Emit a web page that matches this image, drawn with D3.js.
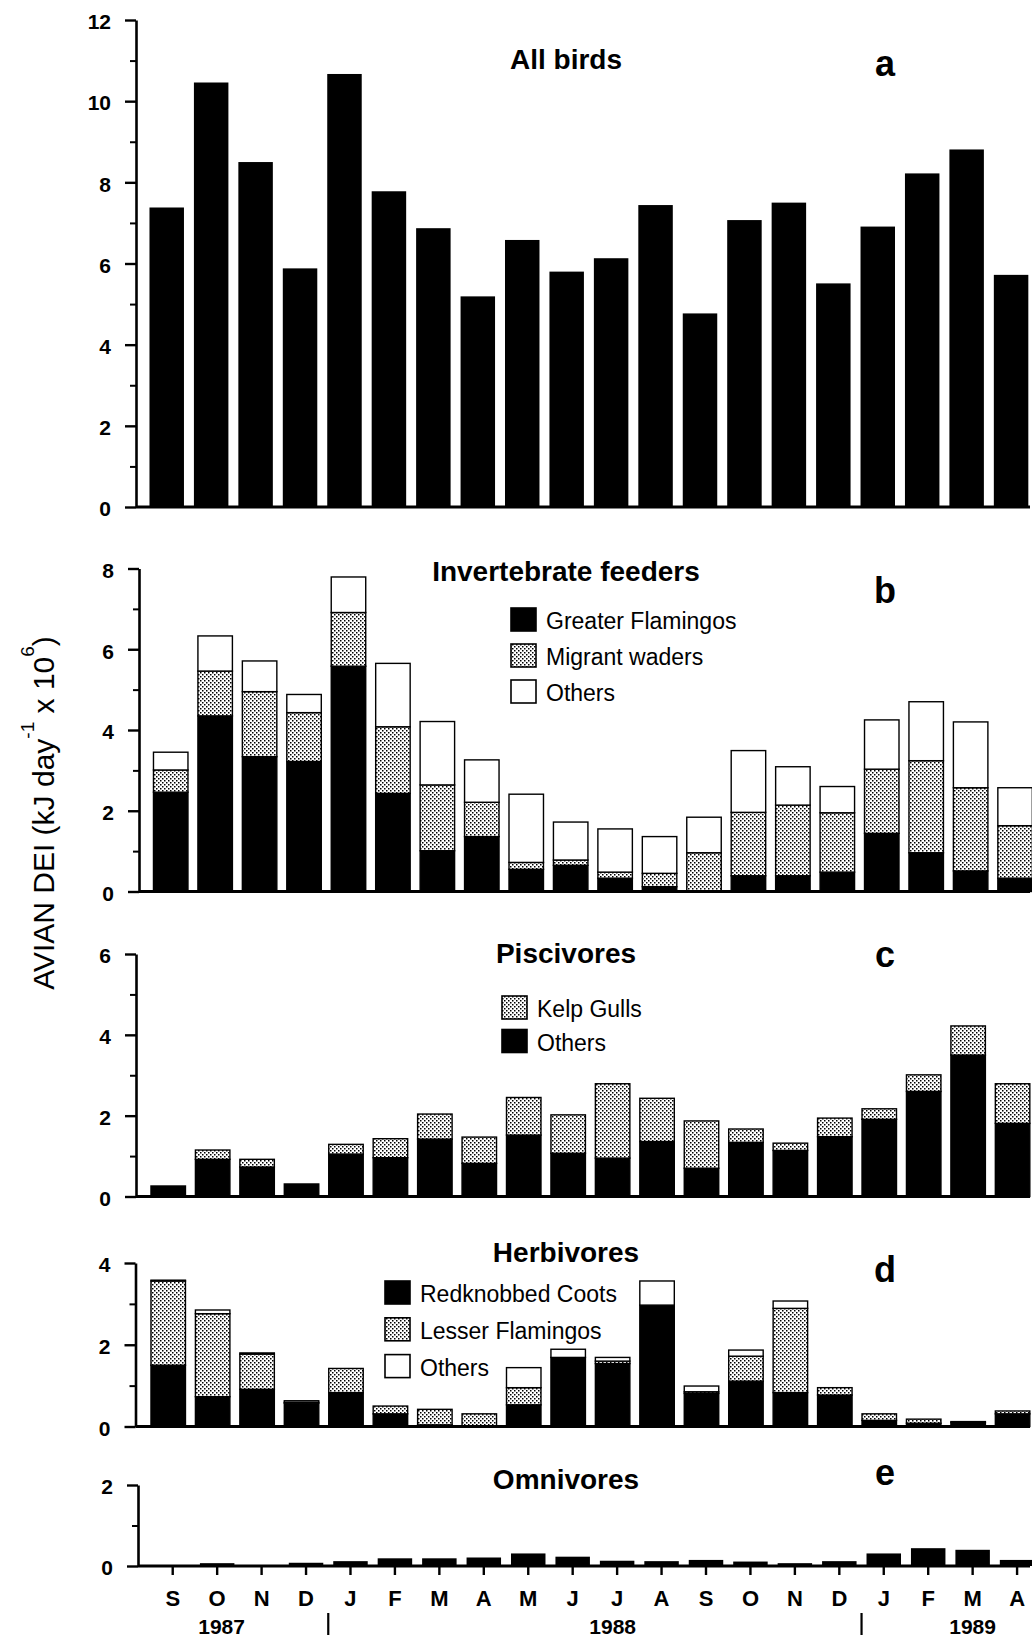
<!DOCTYPE html>
<html><head><meta charset="utf-8">
<script src="https://cdn.jsdelivr.net/npm/d3@7"></script>
<style>
body{margin:0;background:#fff}
svg text{font-family:"Liberation Sans",Arial,Helvetica,sans-serif;fill:#000}
</style>
</head><body>
<svg id="chart" width="1032" height="1640"></svg>
<script>
// ---------- data ----------
const months = ["S","O","N","D","J","F","M","A","M","J","J","A","S","O","N","D","J","F","M","A"];
const years = ["1987","1988","1989"];
const yearAt = [1.1, 9.9, 18];        // month index under which each year label sits
const yearBreaks = [3.5, 15.5];       // month index of year separators

const allBirds = [7.38,10.46,8.50,5.88,10.67,7.78,6.87,5.19,6.58,5.80,6.13,7.44,4.77,7.07,7.50,5.51,6.91,8.22,8.81,5.72];

const invGreater = [2.46,4.35,3.34,3.22,5.58,2.43,1.01,1.36,0.55,0.65,0.33,0.12,0.00,0.39,0.39,0.48,1.44,0.96,0.51,0.33];
const invMigrant = [0.55,1.11,1.61,1.21,1.33,1.65,1.63,0.85,0.17,0.13,0.15,0.33,0.96,1.57,1.75,1.47,1.59,2.28,2.06,1.30];
const invOthers  = [0.44,0.87,0.76,0.45,0.88,1.57,1.57,1.05,1.69,0.94,1.07,0.91,0.88,1.53,0.95,0.65,1.22,1.46,1.63,0.94];

const pisOthers = [0.26,0.92,0.73,0.31,1.05,0.96,1.42,0.82,1.52,1.07,0.95,1.36,0.70,1.34,1.14,1.48,1.91,2.60,3.50,1.81];
const pisKelp   = [0.00,0.23,0.19,0.00,0.24,0.47,0.62,0.65,0.93,0.95,1.84,1.07,1.17,0.33,0.18,0.46,0.26,0.41,0.72,0.98];

const herbCoots  = [1.50,0.73,0.91,0.57,0.83,0.31,0.04,0.02,0.53,1.69,1.54,2.97,0.81,1.11,0.83,0.77,0.15,0.08,0.10,0.31];
const herbLesser = [2.06,2.03,0.86,0.02,0.59,0.19,0.38,0.29,0.42,0.00,0.06,0.00,0.04,0.61,2.06,0.18,0.16,0.10,0.00,0.07];
const herbOthers = [0.02,0.09,0.03,0.04,0.00,0.00,0.00,0.00,0.49,0.20,0.09,0.59,0.14,0.15,0.18,0.00,0.00,0.00,0.02,0.00];

const omnivores = [0.02,0.07,0.02,0.08,0.12,0.19,0.19,0.21,0.31,0.23,0.13,0.12,0.15,0.11,0.07,0.12,0.31,0.44,0.40,0.15];

const ticksA = [0,2,4,6,8,10,12];
const ticksB = [0,2,4,6,8];
const ticksC = [0,2,4,6];
const ticksD = [0,2,4];
const ticksE = [0,2];

// ---------- drawing ----------
const svg = d3.select("#chart");
const defs = svg.append("defs");
const pat = defs.append("pattern").attr("id","stip").attr("width",4).attr("height",4)
  .attr("patternUnits","userSpaceOnUse");
pat.append("rect").attr("width",4).attr("height",4).attr("fill","#fff");
pat.append("rect").attr("x",0).attr("y",0).attr("width",1.5).attr("height",1.5).attr("fill","#000");
pat.append("rect").attr("x",2).attr("y",2).attr("width",1.5).attr("height",1.5).attr("fill","#000");

const FILL = {black:"#000", stip:"url(#stip)", white:"#fff"};

const panels = [
  {title:"All birds", letter:"a", ticks:ticksA, y0:507, yTop:20, ax:136, dx:-1.5, titleY:69, letterY:76,
   series:[{v:allBirds,f:"black"}], outline:false, legend:null},
  {title:"Invertebrate feeders", letter:"b", ticks:ticksB, y0:891.5, yTop:568.5, ax:139, dx:2.5, titleY:581, letterY:603,
   series:[{v:invGreater,f:"black",n:"Greater Flamingos"},{v:invMigrant,f:"stip",n:"Migrant waders"},{v:invOthers,f:"white",n:"Others"}],
   outline:true, legend:{x:511,y:608,step:36,order:[0,1,2]}},
  {title:"Piscivores", letter:"c", ticks:ticksC, y0:1196.5, yTop:954, ax:136, dx:0, titleY:963, letterY:967,
   series:[{v:pisOthers,f:"black",n:"Others"},{v:pisKelp,f:"stip",n:"Kelp Gulls"}],
   outline:true, legend:{x:502,y:996,step:33.5,order:[1,0]}},
  {title:"Herbivores", letter:"d", ticks:ticksD, y0:1426.5, yTop:1263, ax:135.5, dx:0, titleY:1262, letterY:1282,
   series:[{v:herbCoots,f:"black",n:"Redknobbed Coots"},{v:herbLesser,f:"stip",n:"Lesser Flamingos"},{v:herbOthers,f:"white",n:"Others"}],
   outline:true, legend:{x:385,y:1281,step:36.8,order:[0,1,2]}},
  {title:"Omnivores", letter:"e", ticks:ticksE, y0:1566, yTop:1485, ax:138, dx:4.5, titleY:1489, letterY:1485,
   series:[{v:omnivores,f:"black"}], outline:false, legend:null, xaxis:true}
];

panels.forEach(p => {
  const g = svg.append("g");
  const maxV = d3.max(p.ticks);
  const y = d3.scaleLinear().domain([0,maxV]).range([p.y0,p.yTop]);
  const x = d3.scaleBand().domain(d3.range(months.length))
    .range([146+p.dx, 146+p.dx+888.8]).paddingInner(0.224).paddingOuter(0.112);

  // stacked bars
  const n = months.length;
  const stackData = d3.range(n).map(i => {
    const o = {i};
    p.series.forEach((s,k)=> o["s"+k] = s.v[i]);
    return o;
  });
  const stack = d3.stack().keys(p.series.map((s,k)=>"s"+k))(stackData);
  stack.forEach((layer,k) => {
    const s = p.series[k];
    g.append("g").selectAll("rect").data(layer.filter(d => d[1]-d[0] > 0)).join("rect")
      .attr("x", d => x(d.data.i))
      .attr("width", x.bandwidth())
      .attr("y", d => y(d[1]))
      .attr("height", d => Math.max(0.8, y(d[0]) - y(d[1])))
      .attr("fill", FILL[s.f])
      .attr("stroke", p.outline ? "#000" : "none")
      .attr("stroke-width", 1.4);
  });

  // y axis major
  const yAxis = d3.axisLeft(y).tickValues(p.ticks).tickSize(11).tickPadding(14).tickSizeOuter(0)
    .tickFormat(d3.format("d"));
  const ga = g.append("g").attr("transform",`translate(${p.ax},0)`).call(yAxis);
  ga.select(".domain").attr("stroke-width",2.6);
  ga.selectAll(".tick line").attr("stroke-width",2.4);
  ga.selectAll(".tick text").attr("font-size",21).attr("font-weight","bold")
    .attr("font-family",'"Liberation Sans",Arial,sans-serif').attr("dy","0.42em");
  // minor ticks
  const minor = d3.range(1, maxV, 2);
  const gm = g.append("g").attr("transform",`translate(${p.ax},0)`)
    .call(d3.axisLeft(y).tickValues(minor).tickSize(6).tickFormat(""));
  gm.select(".domain").remove();
  gm.selectAll(".tick line").attr("stroke-width",2);

  // baseline
  g.append("line").attr("x1",p.ax).attr("x2",1030).attr("y1",y(0)).attr("y2",y(0))
    .attr("stroke","#000").attr("stroke-width",3);

  // title & letter
  g.append("text").attr("x",566).attr("y",p.titleY).attr("text-anchor","middle")
    .attr("font-size",28).attr("font-weight","bold").text(p.title);
  g.append("text").attr("x",885).attr("y",p.letterY).attr("text-anchor","middle")
    .attr("font-size",36).attr("font-weight","bold").text(p.letter);

  // legend
  if (p.legend) {
    const L = p.legend;
    L.order.forEach((k,j) => {
      const s = p.series[k];
      const yy = L.y + j*L.step;
      g.append("rect").attr("x",L.x).attr("y",yy).attr("width",25).attr("height",23)
        .attr("fill",FILL[s.f]).attr("stroke","#000").attr("stroke-width",1.6);
      g.append("text").attr("x",L.x+35).attr("y",yy+21).attr("font-size",23).text(s.n);
    });
  }

  // x axis (bottom panel only)
  if (p.xaxis) {
    const xAxis = d3.axisBottom(x).tickSize(9).tickPadding(15).tickSizeOuter(0)
      .tickFormat(i => months[i]);
    const gx = g.append("g").attr("transform",`translate(0,${y(0)})`).call(xAxis);
    gx.select(".domain").remove();
    gx.selectAll(".tick line").attr("stroke-width",2.4);
    gx.selectAll(".tick text").attr("font-size",22).attr("font-weight","bold")
      .attr("font-family",'"Liberation Sans",Arial,sans-serif');
    const xc = i => x(0) + x.bandwidth()/2 + i*x.step();
    years.forEach((yr,j) => {
      g.append("text").attr("x",xc(yearAt[j])).attr("y",1634).attr("text-anchor","middle")
        .attr("font-size",21).attr("font-weight","bold").text(yr);
    });
    yearBreaks.forEach(b => {
      g.append("line").attr("x1",xc(b)).attr("x2",xc(b)).attr("y1",1613).attr("y2",1635)
        .attr("stroke","#000").attr("stroke-width",2.2);
    });
  }
});

// y axis label
const yl = svg.append("text").attr("transform","translate(54,813) rotate(-90)")
  .attr("text-anchor","middle").attr("font-size",30);
yl.append("tspan").text("AVIAN DEI (kJ day");
yl.append("tspan").attr("font-size",19).attr("dy",-20).text("-1");
yl.append("tspan").attr("dy",20).text(" x 10");
yl.append("tspan").attr("font-size",19).attr("dy",-20).text("6");
yl.append("tspan").attr("dy",20).text(")");
</script>
</body></html>
